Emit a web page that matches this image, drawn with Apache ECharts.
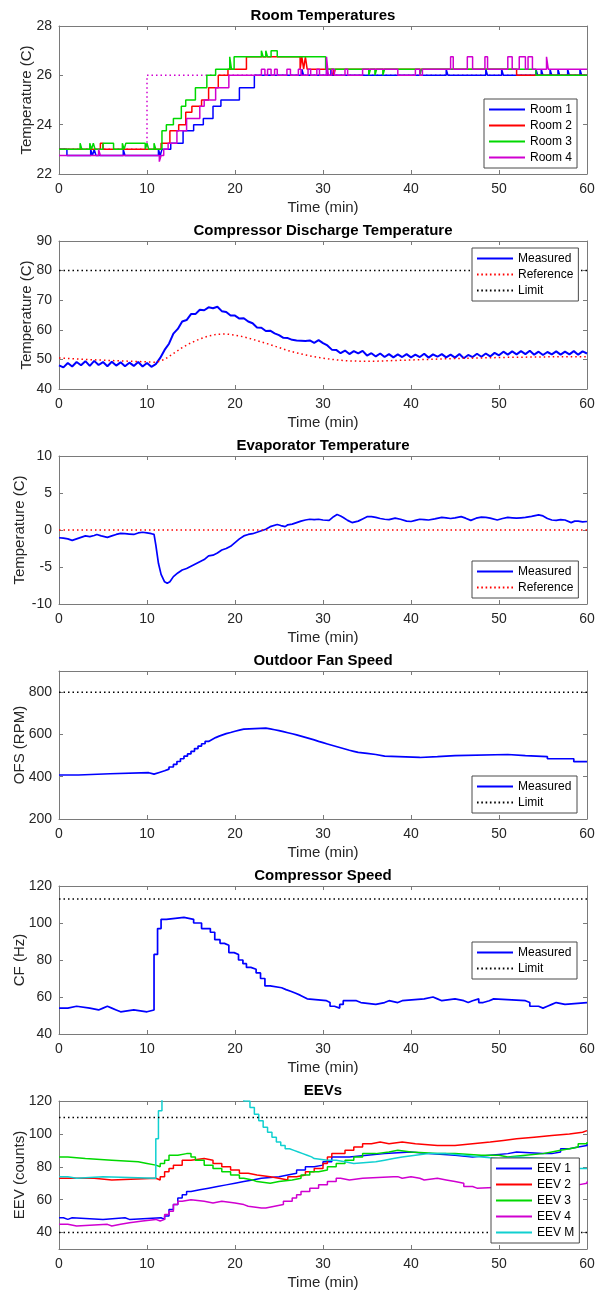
<!DOCTYPE html>
<html><head><meta charset="utf-8">
<script src="https://cdn.jsdelivr.net/npm/echarts@6/dist/echarts.min.js"></script>
<style>html,body{margin:0;padding:0;background:#fff}#c{width:595px;height:1292px}</style>
</head><body><div id="c"></div>
<script>
// ---------- DATA ----------
const panelTitles = ['Room Temperatures','Compressor Discharge Temperature','Evaporator Temperature','Outdoor Fan Speed','Compressor Speed','EEVs'];
const yLabels = ['Temperature (C)','Temperature (C)','Temperature (C)','OFS (RPM)','CF (Hz)','EEV (counts)'];
const xLabel = 'Time (min)';
const xTicks = [0,10,20,30,40,50,60];
const yRanges = [[22,28],[40,90],[-10,10],[200,900],[40,120],[30,120]];
const yTicks = [[22,24,26,28],[40,50,60,70,80,90],[-10,-5,0,5,10],[200,400,600,800],[40,60,80,100,120],[40,60,80,100,120]];

const room1 = [[0,23],[0.9,22.75],[3.6,23],[3.8,22.75],[4.0,23],[4.2,22.75],[7.3,23],[7.5,22.75],[11.3,23],[11.5,22.75],[11.7,23],[12.7,23.25],[14.1,23.75],[15.3,24],[16.4,24.25],[17.5,24.75],[18.4,25],[20.5,25.5],[22.2,26],[27.6,26.25],[27.8,26],[30.4,26.25],[30.6,26],[30.9,26.25],[31.1,26],[44,26.25],[44.2,26],[48.5,26.25],[48.7,26],[50.3,26.25],[50.5,26],[54.2,26.25],[54.4,26],[54.8,26.25],[55.0,26],[55.8,26.25],[56.0,26],[56.7,26.25],[56.9,26],[57.8,26.25],[58.0,26],[59.2,26.25],[59.4,26],[60,26]];
const room2 = [[0,23],[4.7,23.25],[5.0,23],[11.6,23.25],[12.6,23.75],[13.6,24],[14.4,24.5],[15.1,24.75],[16.2,25],[17.0,25.5],[18.1,26],[19.2,26.25],[21.3,26.75],[27.4,26.25],[27.6,26.75],[27.8,26.25],[28.0,26.75],[28.2,26.25],[31.2,26],[31.4,26.25],[52.0,26],[60,26]];
const room3 = [[0,23],[2.4,23.25],[2.6,23],[3.5,23.25],[3.7,23],[3.9,23.25],[4.1,23],[5.0,23.25],[6.2,23],[7.2,23.25],[7.4,23],[7.6,23.25],[9.8,23],[10.0,23.25],[10.2,23],[10.8,23.25],[11.0,23],[11.7,23.75],[12.2,24],[13.0,24.25],[13.9,24.75],[14.4,25],[15.5,25.5],[16.8,26],[17.8,26.25],[19.4,26.75],[19.6,26.25],[19.9,26.75],[23.0,27],[23.2,26.75],[23.5,27],[23.7,26.75],[24.1,27],[24.8,26.75],[30.3,26.25],[35.2,26],[35.4,26.25],[35.9,26],[36.1,26.25],[36.8,26],[37.0,26.25],[41.0,26],[41.2,26.25],[54.2,26],[60,26]];
const room4 = [[0,22.75],[4.5,23],[4.7,22.75],[11.4,22.5],[11.6,22.75],[11.9,23],[12.4,23.25],[13.4,23.75],[14.5,24.25],[16.0,24.75],[16.5,25],[17.8,25.5],[19.3,26],[23.0,26.25],[23.4,26],[23.7,26.25],[24.1,26],[24.5,26.25],[24.8,26],[25.9,26.25],[26.3,26],[27.2,26.25],[27.5,26],[28.3,26.25],[28.6,26],[29.3,26.25],[29.6,26],[30.4,26.75],[30.6,26],[31.0,26.25],[31.3,26],[32.5,26.25],[32.8,26],[34.5,26.25],[38.5,26],[40.5,26.25],[41.0,26],[41.3,26.25],[44.5,26.75],[44.8,26.25],[46.4,26.75],[47.0,26.25],[48.4,26.75],[48.7,26.25],[51.0,26.75],[51.5,26.25],[52.3,26.75],[53.0,26.25],[53.3,26.75],[53.8,26.25],[55.4,26.75],[55.6,26.25],[60,26.25]];
const roomSetpoint = [[0,23],[10,23],[10,26],[60,26]];

const dischargeMeasured = [[0,48.0],[0.5,47.3],[1,48.8],[1.5,47.6],[2,49.1],[2.5,48.0],[3,49.4],[3.5,47.8],[4,49.5],[4.5,48.1],[5,49.1],[5.5,47.7],[6,49.2],[6.5,47.9],[7,49.0],[7.5,47.7],[8,48.9],[8.5,47.8],[9,49.1],[9.5,47.6],[10,48.8],[10.5,47.5],[11,48.4],[11.5,50.5],[12,53.2],[12.5,55.3],[13,58.7],[13.5,60.3],[14,62.8],[14.5,63.3],[15,65.3],[15.5,65.3],[16,66.8],[16.5,66.6],[17,67.6],[17.5,67.3],[18,67.8],[18.5,66.3],[19,66.0],[19.5,64.8],[20,64.8],[20.5,63.8],[21,63.9],[21.5,62.8],[22,62.2],[22.5,60.8],[23,60.7],[23.5,59.6],[24,59.7],[24.5,58.8],[25,58.2],[25.5,57.3],[26,57.2],[26.5,56.6],[27,56.4],[27.5,56.3],[28,56.2],[28.5,56.4],[29,55.6],[29.5,56.5],[30,55.5],[30.5,54.7],[31,53.3],[31.5,53.2],[32,52.1],[32.5,53.0],[33,51.8],[33.5,52.8],[34,52.0],[34.5,52.9],[35,51.3],[35.5,52.1],[36,51.0],[36.5,52.0],[37,50.8],[37.5,51.8],[38,50.7],[38.5,51.7],[39,50.8],[39.5,51.8],[40,50.7],[40.5,51.6],[41,50.8],[41.5,51.9],[42,50.6],[42.5,51.7],[43,50.9],[43.5,51.8],[44,50.7],[44.5,51.6],[45,50.6],[45.5,51.8],[46,50.4],[46.5,51.5],[47,50.8],[47.5,51.9],[48,50.9],[48.5,52.0],[49,51.0],[49.5,52.2],[50,51.4],[50.5,52.6],[51,51.6],[51.5,52.7],[52,51.7],[52.5,52.8],[53,51.8],[53.5,52.9],[54,51.6],[54.5,52.6],[55,51.5],[55.5,52.5],[56,51.7],[56.5,52.7],[57,51.6],[57.5,52.6],[58,51.7],[58.5,52.8],[59,51.6],[59.5,52.7],[60,52.0]];
const dischargeReference = [[0,50.5],[3,50.0],[6,49.6],[9,49.3],[11,49.0],[12,50.0],[13,52.0],[14,54.0],[15,55.6],[16,56.9],[17,57.9],[18,58.5],[19,58.6],[20,58.2],[21,57.6],[22,56.8],[23,55.9],[24,55.0],[25,54.0],[26,53.0],[27,52.2],[28,51.5],[29,50.9],[30,50.4],[31,50.0],[32,49.7],[33,49.5],[34,49.4],[36,49.4],[38,49.6],[40,49.8],[42,50.0],[45,50.3],[48,50.5],[51,50.7],[54,50.8],[57,50.9],[60,50.9]];
const dischargeLimit = [[0,80],[60,80]];

const evapMeasured = [[0,-1.05],[0.5,-1.1],[1,-1.2],[1.5,-1.4],[2,-1.2],[2.5,-1.0],[3,-0.8],[3.5,-0.9],[4,-0.75],[4.3,-0.6],[4.8,-0.8],[5.5,-1.0],[6,-0.8],[6.5,-0.6],[7,-0.45],[7.5,-0.5],[8,-0.55],[8.5,-0.6],[9,-0.4],[9.5,-0.3],[10,-0.4],[10.5,-0.5],[10.8,-0.6],[11.0,-2.0],[11.3,-4.5],[11.6,-6.0],[12.0,-7.0],[12.3,-7.2],[12.6,-7.0],[13,-6.3],[13.5,-5.8],[14,-5.4],[14.5,-5.2],[15,-4.9],[15.5,-4.6],[16,-4.3],[16.5,-4.0],[17,-3.5],[17.5,-3.4],[18,-3.1],[18.5,-2.7],[19,-2.5],[19.5,-2.2],[20,-1.7],[20.5,-1.2],[21,-0.8],[21.5,-0.6],[22,-0.5],[22.5,-0.3],[23,-0.1],[23.5,0.1],[24,0.45],[24.8,0.75],[25.2,0.6],[25.7,0.45],[26,0.7],[26.5,0.8],[27,1.0],[27.5,1.2],[28,1.35],[28.5,1.45],[29,1.4],[29.5,1.45],[30,1.35],[30.7,1.3],[31.2,1.8],[31.6,2.1],[32,1.9],[32.3,1.7],[32.8,1.3],[33.3,1.0],[34,1.2],[34.5,1.5],[35,1.8],[35.5,1.8],[36,1.7],[36.5,1.55],[37,1.45],[37.5,1.4],[38.2,1.6],[38.8,1.45],[39.5,1.2],[40,1.15],[40.5,1.3],[41,1.45],[41.5,1.4],[42,1.35],[42.7,1.5],[43.5,1.7],[44,1.65],[44.5,1.55],[45,1.65],[45.7,1.8],[46.2,1.6],[46.8,1.3],[47.4,1.6],[48,1.75],[48.5,1.7],[49,1.6],[49.8,1.35],[50.4,1.55],[51,1.7],[51.5,1.65],[52,1.6],[52.5,1.65],[53,1.7],[53.7,1.85],[54.5,2.05],[55,1.9],[55.5,1.55],[56,1.35],[56.5,1.3],[57,1.4],[57.5,1.35],[58.2,1.0],[58.6,1.2],[59,1.2],[59.5,1.1],[60,1.15]];
const evapReference = [[0,0],[60,0]];

const ofsMeasured = [[0,408],[2.2,414],[5.8,419],[10.2,412],[10.8,420],[11.4,428],[12.0,436],[12.5,446],[13.0,458],[13.4,472],[13.8,485],[14.2,497],[14.6,508],[15.0,520],[15.4,533],[15.8,545],[16.2,556],[16.6,567],[17.0,576],[17.4,585],[17.8,592],[18.2,598],[18.6,604],[19.0,609],[19.5,615],[20.0,620],[20.5,625],[21.0,630],[23.5,626],[24.0,622],[24.5,618],[25.0,613],[25.5,608],[26.0,603],[26.5,598],[27.0,592],[27.5,586],[28.0,580],[28.5,574],[29.0,567],[29.5,561],[30.0,555],[30.5,549],[31.0,543],[31.5,537],[32.0,531],[32.5,525],[33.0,520],[33.5,515],[34.0,510],[35.0,505],[36.0,497],[37.0,491],[41.0,495],[43.0,500],[45.0,505],[51.0,500],[53.0,495],[55.5,485],[58.5,471],[60,471]];
const ofsLimit = [[0,800],[60,800]];

const cfMeasured = [[0,54],[1,55],[2,54],[3.5,53],[4.5,54],[5,55],[5.5,54],[6,53],[6.5,52],[7,53],[8.5,52],[10,53],[10.8,83],[11.2,97],[11.6,102],[12.2,103],[14.2,102],[15.3,100],[16.2,97],[17.2,95],[17.7,91],[18.3,89],[18.8,88],[19.3,84],[19.9,83],[20.4,80],[20.9,78],[21.3,76],[21.8,75],[22.4,73],[22.9,70],[23.4,66],[24.0,65],[25.3,64],[25.8,63],[26.4,62],[26.9,61],[27.4,60],[27.8,59],[28.2,58],[30.4,57],[30.8,55],[31.3,54],[31.9,56],[32.3,58],[33.8,57],[34.3,56],[36.0,57],[37.0,58],[37.5,57],[38.5,58],[39.0,59],[41.5,60],[42.5,59],[43.0,58],[43.5,59],[45.0,58],[46.0,57],[46.5,58],[47.0,59],[47.7,57],[48.2,58],[48.9,59],[49.4,58],[53.0,57],[53.5,55],[54.5,54],[55.0,55],[55.5,56],[56.0,57],[56.5,56],[57.5,57],[60,57]];
const cfLimit = [[0,113],[60,113]];

const eev1 = [[0,49],[0.5,48],[1,49],[1.5,48],[5,49],[7.5,48],[8,49],[11.6,48],[12,50],[12.5,54],[13,57],[13.5,61],[14,63],[14.5,65],[15,66],[16,67],[17,68],[18,69],[19,70],[20,71],[21,72],[22,73],[23,74],[25,75],[26,76],[27,78],[28,80],[29,81],[30,83],[31,86],[33,87],[35,88],[37,89],[40,88],[42,87],[45,86],[47,87],[49,88],[51,89],[52,88],[55,88],[56,89],[57,91],[58,92],[59,93],[60,94]];
const eev2 = [[0,73],[4,72],[6,73],[11,72],[11.5,74],[12,77],[12.5,79],[13,81],[14,84],[15,85],[16.5,84],[17.5,82],[18.5,80],[19.5,78],[20.5,76],[21.5,75],[22.5,74],[24,73],[25,72],[26,74],[27,75],[28,77],[29,79],[30,82],[30.5,86],[31,88],[32.5,90],[33.5,92],[34.5,94],[35.5,95],[36.5,94],[37.5,95],[39,94],[40.5,93],[43,93],[45,94],[47,95],[49,96],[50.5,97],[52,98],[54,99],[56,100],[58,101],[59.5,102],[60,102]];
const eev3 = [[0,86],[1,85],[3,84],[6,83],[9,82],[10,81],[11,80],[11.5,82],[12,84],[12.5,87],[13.5,88],[14.5,88],[15,86],[15.5,84],[16.5,81],[17.5,79],[18.5,77],[19.5,75],[20.5,73],[21,72],[22,71],[22.5,70],[24,71],[25,72],[26.5,73],[27.5,75],[28.5,77],[29.5,78],[30.5,80],[31.5,82],[32.5,84],[33.5,86],[34.5,88],[36,89],[37.5,90],[38.5,89],[40,88],[43,88],[45,87],[48,87],[50,86],[51,87],[53,88],[55,89],[56,90],[57,91],[58,92],[59,94],[60,95]];
const eev4 = [[0,45],[1,44],[2,45],[5.5,44],[6,45],[7,46],[8,47],[9.5,48],[11,47],[11.5,48],[12,51],[12.5,53],[13,57],[13.5,59],[14,60],[15,59],[16.5,58],[17.5,59],[18.5,58],[20,57],[21,56],[21.5,55],[23,55],[23.5,56],[24.5,57],[25.5,59],[26.5,61],[27,63],[27.5,65],[28.5,67],[29.5,69],[30.5,71],[31.5,73],[32,72],[33,73],[34.5,74],[38,74],[38.5,73],[39,74],[40,73],[41,72],[41.5,73],[43,72],[44,71],[45,70],[46,68],[47,67],[47.5,68],[52,68],[55,69],[57,69],[59,70],[60,71]];
const eevM = [[0,74],[1,73],[2,74],[5,73],[11,97],[11.3,114],[11.7,125],[12.5,135],[16,140],[19,132],[20,126],[21,120],[21.7,116],[22.2,112],[22.7,108],[23.2,104],[23.7,101],[24.2,98],[24.7,95],[25.2,93],[25.7,91],[26.2,90],[26.7,89],[27.2,88],[27.7,87],[28.2,86],[28.7,85],[29,84],[30.5,84],[31.5,83],[32.5,82],[33.5,83],[36,84],[37,85],[38,86],[39,87],[40.5,88],[42,88],[44,87],[46,86],[48,85],[50,86],[52,85],[55,84],[57,81],[58,79],[60,79]];
const eevUpperLimit = [[0,110],[60,110]];
const eevLowerLimit = [[0,40],[60,40]];

// ---------- STYLE / LAYOUT ----------
const FONT = '"Liberation Sans", Arial, Helvetica, sans-serif';
const TXT = '#262626';
const FRAME = '#7a7a7a';
const GRID_TOP0 = 26, GRID_STEP = 215, GRID_H = 148, GRID_L = 59, GRID_R = 8;
const yNameGaps = [25,25,32,32,32,32];
const C = {blue:'#0000ff', red:'#ff0000', green:'#00d800', mag:'#d000d0', cyan:'#10d0d0', black:'#000000'};
const DOT = [1.5, 3];
const ICON_SOLID = 'path://M0,0H36V1.8H0Z';
let dotPath = 'path://';
for (let k = 0; k < 9; k++) { const x0 = k * 4.3; dotPath += 'M' + x0 + ',0H' + (x0 + 1.6) + 'V1.8H' + x0 + 'Z'; }
const ICON_DOT = dotPath;

const grids = [], xAxes = [], yAxes = [], titles = [], series = [];
for (let i = 0; i < 6; i++) {
  const top = GRID_TOP0 + GRID_STEP * i;
  grids.push({left: GRID_L, right: GRID_R, top: top, height: GRID_H, containLabel: false, outerBoundsMode: 'none'});
  titles.push({text: panelTitles[i], left: GRID_L + (595 - GRID_L - GRID_R) / 2, textAlign: 'center', top: top - 18, padding: 0,
    textStyle: {fontFamily: FONT, fontSize: 15, fontWeight: 'bold', color: '#000'}});
  const line = {show: true, onZero: false, lineStyle: {color: FRAME, width: 1}};
  const tick = {show: true, inside: true, length: 4, lineStyle: {color: FRAME, width: 1}};
  const baseX = {gridIndex: i, type: 'value', min: 0, max: 60, splitLine: {show: false}, axisLine: line};
  xAxes.push(Object.assign({}, baseX, {position: 'bottom',
    axisTick: Object.assign({customValues: xTicks}, tick),
    axisLabel: {customValues: xTicks, fontFamily: FONT, fontSize: 14, color: TXT, margin: 8},
    name: xLabel, nameLocation: 'middle', nameGap: 26, nameTextStyle: {fontFamily: FONT, fontSize: 15, color: TXT}}));
  xAxes.push(Object.assign({}, baseX, {position: 'top', axisTick: Object.assign({customValues: xTicks}, tick), axisLabel: {show: false}}));
  const baseY = {gridIndex: i, type: 'value', min: yRanges[i][0], max: yRanges[i][1], splitLine: {show: false}, axisLine: line};
  yAxes.push(Object.assign({}, baseY, {position: 'left',
    axisTick: Object.assign({customValues: yTicks[i]}, tick),
    axisLabel: {customValues: yTicks[i], fontFamily: FONT, fontSize: 14, color: TXT, margin: 7},
    name: yLabels[i], nameLocation: 'middle', nameGap: yNameGaps[i], nameMoveOverlap: false,
    nameTextStyle: {fontFamily: FONT, fontSize: 15, color: TXT}}));
  yAxes.push(Object.assign({}, baseY, {position: 'right', axisTick: Object.assign({customValues: yTicks[i]}, tick), axisLabel: {show: false}}));
}

function addLine(grid, name, data, color, opt) {
  opt = opt || {};
  series.push({
    type: 'line', name: name, data: data, xAxisIndex: grid * 2, yAxisIndex: grid * 2,
    symbol: 'none', showSymbol: false, step: opt.step || false, clip: true, animation: false, silent: true,
    lineStyle: {color: color, width: opt.width || 1.5, type: opt.dotted ? DOT : 'solid'},
    itemStyle: {color: color}, z: opt.z || 2
  });
}
// panel 1
addLine(0, 'Setpoint 4', roomSetpoint, C.mag, {dotted: true});
addLine(0, 'Room 1', room1, C.blue, {step: 'end'});
addLine(0, 'Room 2', room2, C.red, {step: 'end'});
addLine(0, 'Room 3', room3, C.green, {step: 'end'});
addLine(0, 'Room 4', room4, C.mag, {step: 'end'});
// panel 2
addLine(1, 'Measured', dischargeMeasured, C.blue, {width: 2});
addLine(1, 'Reference', dischargeReference, C.red, {dotted: true});
addLine(1, 'Limit', dischargeLimit, C.black, {dotted: true});
// panel 3
addLine(2, 'Measured', evapMeasured, C.blue, {width: 1.7});
addLine(2, 'Reference', evapReference, C.red, {dotted: true});
// panel 4
addLine(3, 'Measured', ofsMeasured, C.blue, {step: 'end', width: 1.7});
addLine(3, 'Limit', ofsLimit, C.black, {dotted: true});
// panel 5
addLine(4, 'Measured', cfMeasured, C.blue, {step: 'end', width: 1.7});
addLine(4, 'Limit', cfLimit, C.black, {dotted: true});
// panel 6
addLine(5, 'EEV 1', eev1, C.blue, {step: 'end'});
addLine(5, 'EEV 2', eev2, C.red, {step: 'end'});
addLine(5, 'EEV 3', eev3, C.green, {step: 'end'});
addLine(5, 'EEV 4', eev4, C.mag, {step: 'end'});
addLine(5, 'EEV M', eevM, C.cyan, {step: 'end'});
addLine(5, 'Limit', eevUpperLimit, C.black, {dotted: true});
addLine(5, 'Limit', eevLowerLimit, C.black, {dotted: true});

const dottedNames = {'Reference': 1, 'Limit': 1};
function legend(names, left, top, textW) {
  return {data: names.map(n => ({name: n, icon: dottedNames[n] ? ICON_DOT : ICON_SOLID})),
    orient: 'vertical', left: left, top: top, selectedMode: false,
    itemWidth: 36, itemHeight: 1.8, itemGap: 1, padding: [3, 5, 3, 5],
    itemStyle: {borderWidth: 0},
    backgroundColor: '#fff', borderColor: '#4a4a4a', borderWidth: 1, borderRadius: 0,
    textStyle: {fontFamily: FONT, fontSize: 12, color: '#000', lineHeight: 15, width: textW}};
}
const legends = [
  legend(['Room 1','Room 2','Room 3','Room 4'], 484, 99, 42),
  legend(['Measured','Reference','Limit'], 472, 248, 54),
  legend(['Measured','Reference'], 472, 561, 54),
  legend(['Measured','Limit'], 472, 776, 54),
  legend(['Measured','Limit'], 472, 942, 54),
  legend(['EEV 1','EEV 2','EEV 3','EEV 4','EEV M'], 491, 1158, 35)
];

const chart = echarts.init(document.getElementById('c'), null, {renderer: 'canvas'});
chart.setOption({
  animation: false, backgroundColor: '#fff',
  title: titles, grid: grids, xAxis: xAxes, yAxis: yAxes, legend: legends, series: series
});
</script></body></html>
